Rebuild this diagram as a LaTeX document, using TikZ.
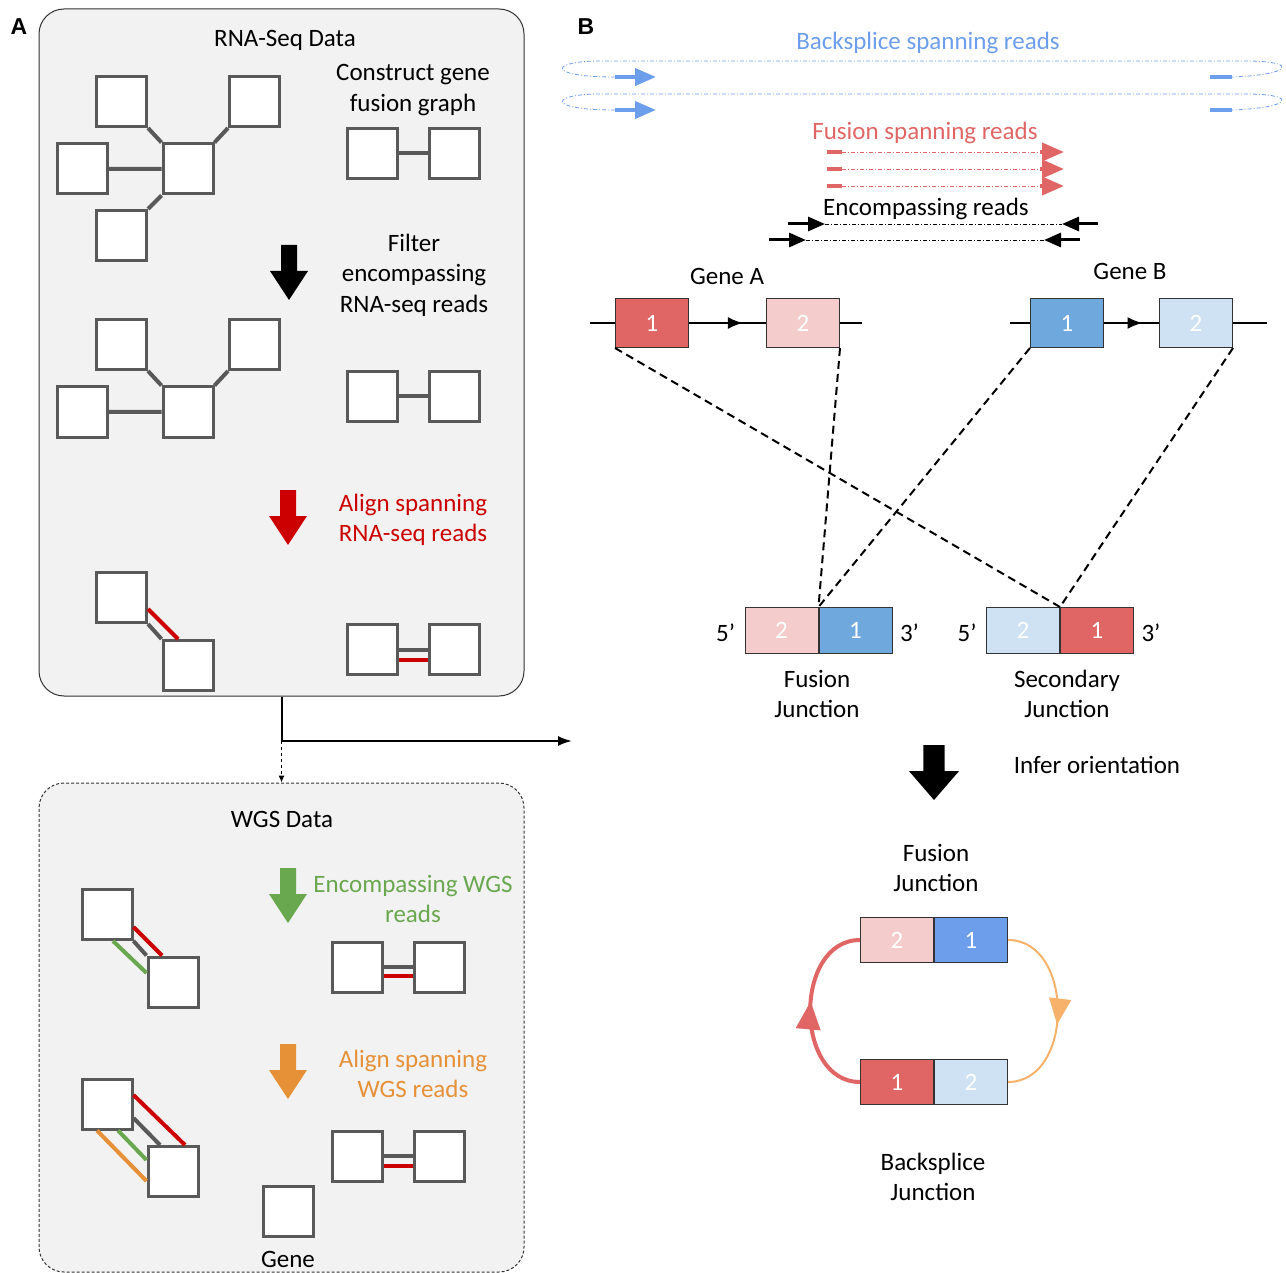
\documentclass[tikz,border=0pt]{standalone}
\usepackage{fontspec}
\setmainfont{Carlito}
\newfontfamily\panelfont{Liberation Sans}
\usetikzlibrary{positioning,arrows.meta,decorations.markings}

\definecolor{boxgray}{HTML}{F2F2F2}
\definecolor{edgegray}{HTML}{595959}
\definecolor{alignred}{HTML}{CC0000}
\definecolor{exonred}{HTML}{E06666}
\definecolor{exonpink}{HTML}{F4CCCC}
\definecolor{exonblue}{HTML}{6FA8DC}
\definecolor{exonsky}{HTML}{CFE2F3}
\definecolor{bsblue}{HTML}{6D9EEB}
\definecolor{wgsgreen}{HTML}{6AA84F}
\definecolor{wgsorange}{HTML}{E69138}
\definecolor{arcorange}{HTML}{F6B26B}

\newcommand\figfont{\fontsize{25}{30.5}\selectfont}

\tikzset{
every picture/.style={
line width=1pt
},
lbl/.style={font=\figfont, align=center, inner sep=0pt, yshift=-2pt},
panel/.style={draw=black!80, fill=boxgray, rounded corners=25pt, minimum width=485pt},
sq/.style={draw=edgegray, line width=3pt, fill=white, minimum size=50pt, inner sep=0pt},
link/.style={draw=edgegray, line width=4pt},
exon/.style={draw=black!80, minimum width=73pt, minimum height=49pt, inner sep=0pt, text=white, font=\figfont},
jbox/.style={exon, minimum height=46pt},
geneline/.style={line width=2pt},
midarrow/.style={postaction={decorate}, decoration={markings, mark=at position 0.7 with {\arrow{Latex[length=15pt,width=12pt]}}}},
dashline/.style={line width=2pt, dash pattern=on 8pt off 5pt},
dotread/.style={line width=0.8pt, dash pattern=on 4pt off 2pt on 1pt off 2pt},
readhead/.style={line width=4pt, -{Triangle[length=21pt,width=17pt]}},
encarrow/.style={line width=3pt, -{Triangle[length=17pt,width=14pt]}},
blockdown/.pic={
  \fill[#1] (-8,0) -- (8,0) -- (8,26) -- (19,26) -- (0,55) -- (-19,26) -- (-8,26) -- cycle;
}
}

\begin{document}
\begin{tikzpicture}[x=1pt, y=-1pt]
\useasboundingbox (0,0) rectangle (1286,1273);

% panel A
\node[font=\panelfont\bfseries\fontsize{23}{23}\selectfont] (labA) at (19,27) {A};
\node[panel, minimum height=687pt] (box1) at (281.5,352.5) {};
\node[panel, dash pattern=on 3pt off 2pt, minimum height=489pt] (box2) at (281.5,1027.5) {};

\node[lbl] (rnaT) at (285,38) {RNA-Seq Data};
\node[lbl] (cgT) at (413,88) {Construct gene\\fusion graph};

\node[sq] (r1tl) at (121.5,101.5) {};
\node[sq] (r1tr) at (254.5,101.5) {};
\node[sq] (r1l) at (82,169) {};
\node[sq] (r1c) at (188,169) {};
\node[sq] (r1b) at (121.5,235.5) {};
\draw[link] (r1tl.south east) -- (r1c.north west) (r1tr.south west) -- (r1c.north east)
  (r1l.east) -- (r1c.west) (r1b.north east) -- (r1c.south west);

\node[sq] (p1a) at (372.5,153.5) {};
\node[sq] (p1b) at (454.5,153.5) {};
\draw[link] (p1a.east) -- (p1b.west);

\pic at (289,245) {blockdown=black};
\node[lbl] (filT) at (414,273) {Filter\\encompassing\\RNA-seq reads};

\node[sq] (r2tl) at (121.5,344.5) {};
\node[sq] (r2tr) at (254.5,344.5) {};
\node[sq] (r2l) at (82,412) {};
\node[sq] (r2c) at (188,412) {};
\draw[link] (r2tl.south east) -- (r2c.north west) (r2tr.south west) -- (r2c.north east)
  (r2l.east) -- (r2c.west);

\node[sq] (p2a) at (372.5,396.5) {};
\node[sq] (p2b) at (454.5,396.5) {};
\draw[link] (p2a.east) -- (p2b.west);

\pic at (288,490) {blockdown=alignred};
\node[lbl, text=alignred] (alT) at (413,518) {Align spanning\\RNA-seq reads};

\node[sq] (r3a) at (121.5,597.5) {};
\node[sq] (r3b) at (188,665.5) {};
\draw[link] (r3a.south east) -- (r3b.north west);
\draw[link, alignred] ([yshift=-11.5pt]r3a.east) -- ([xshift=-10pt]r3b.north);

\node[sq] (p3a) at (372.5,649.5) {};
\node[sq] (p3b) at (454.5,649.5) {};
\draw[link] (p3a.east) -- (p3b.west);
\draw[link, alignred] ([yshift=-10pt]p3a.east) -- ([yshift=-10pt]p3b.west);

\coordinate (toB) at (572,741);
\coordinate (split) at (box1.south |- toB);
\draw[line width=2pt, -{Latex[length=14pt,width=10pt]}] (box1.south) -- (split) -- (toB);
\draw[dashed, -{Latex[length=7pt,width=6pt]}] (split) -- (box2.north);

\node[lbl] (wgsT) at (282,817) {WGS Data};

\node[sq] (w1a) at (107,914.5) {};
\node[sq] (w1b) at (173,982) {};
\draw[link] (w1a.south east) -- (w1b.north west);
\draw[link, alignred] ([yshift=-12.5pt]w1a.east) -- ([xshift=-11pt]w1b.north);
\draw[link, wgsgreen] ([xshift=6pt]w1a.south) -- ([yshift=9pt]w1b.west);

\pic at (288,868) {blockdown=wgsgreen};
\node[lbl, text=wgsgreen] (encT) at (413,897) {Encompassing WGS\\reads};

\node[sq] (q1a) at (357.5,967) {};
\node[sq] (q1b) at (439,967) {};
\draw[link] (q1a.east) -- (q1b.west);
\draw[link, alignred] ([yshift=-9pt]q1a.east) -- ([yshift=-9pt]q1b.west);

\pic at (288,1044) {blockdown=wgsorange};
\node[lbl, text=wgsorange] (awT) at (413,1072) {Align spanning\\WGS reads};

\node[sq] (w2a) at (107,1104) {};
\node[sq] (w2b) at (173,1171.5) {};
\draw[link] ([yshift=-14pt]w2a.east) -- ([xshift=-13pt]w2b.north);
\draw[link, alignred] ([yshift=9pt]w2a.east) -- ([xshift=12pt]w2b.north);
\draw[link, wgsgreen] ([xshift=11pt]w2a.south) -- ([yshift=11.5pt]w2b.west);
\draw[link, wgsorange] ([xshift=-10pt]w2a.south) -- ([yshift=-9.5pt]w2b.west);

\node[sq] (q2a) at (357.5,1156) {};
\node[sq] (q2b) at (439,1156) {};
\draw[link] (q2a.east) -- (q2b.west);
\draw[link, alignred] ([yshift=-10pt]q2a.east) -- ([yshift=-10pt]q2b.west);

\node[sq] (gsq) at (288,1211.5) {};
\node[lbl] (geneT) at (288,1257) {Gene};

% panel B
\node[font=\panelfont\bfseries\fontsize{23}{23}\selectfont] (labB) at (586,27) {B};

\node[lbl, text=bsblue] (bsT) at (928,41) {Backsplice spanning reads};
\foreach \y [count=\i] in {77,110}{
  \coordinate (bs\i a) at (615,\y);
  \coordinate (bs\i b) at (656,\y);
  \coordinate (bs\i c) at (1210,\y);
  \coordinate (bs\i d) at (1232,\y);
  \draw[readhead, bsblue] (bs\i a) -- (bs\i b);
  \draw[line width=4pt, bsblue] (bs\i c) -- (bs\i d);
  \draw[dotread, bsblue] (bs\i a) .. controls (545,\y) and (550,\y-16) .. (600,\y-16)
    -- (1250,\y-16) .. controls (1300,\y-15) and (1290,\y-2) .. (bs\i d);
}

\node[lbl, text=exonred] (fsT) at (925,131) {Fusion spanning reads};
\foreach \y [count=\i] in {152,169,186}{
  \coordinate (fs\i a) at (827,\y);
  \coordinate (fs\i b) at (842,\y);
  \coordinate (fs\i c) at (1040,\y);
  \coordinate (fs\i d) at (1064,\y);
  \draw[line width=4pt, exonred] (fs\i a) -- (fs\i b);
  \draw[dotread, exonred] (fs\i b) -- (fs\i c);
  \draw[line width=4pt, exonred, -{Triangle[length=22pt,width=18pt]}] (fs\i c) -- (fs\i d);
}

\node[lbl] (erT) at (926,207) {Encompassing reads};
\foreach \y/\l/\r [count=\i] in {224/788/1098,240/769/1080}{
  \coordinate (er\i a) at (\l,\y);
  \coordinate (er\i b) at (\l+37,\y);
  \coordinate (er\i c) at (\r-36,\y);
  \coordinate (er\i d) at (\r,\y);
  \draw[encarrow] (er\i a) -- (er\i b);
  \draw[dotread] (er\i b) -- (er\i c);
  \draw[encarrow] (er\i d) -- (er\i c);
}

\node[lbl] (gAT) at (727,274) {Gene A};
\node[lbl] (gBT) at (1130,269) {Gene B};

\node[exon, fill=exonred] (exA1) at (652,323) {1};
\node[exon, fill=exonpink] (exA2) at (803,323) {2};
\node[exon, fill=exonblue] (exB1) at (1067,323) {1};
\node[exon, fill=exonsky] (exB2) at (1196,323) {2};
\coordinate (gAl) at (590,323);
\coordinate (gAr) at (862,323);
\coordinate (gBl) at (1010,323);
\coordinate (gBr) at (1267,323);
\draw[geneline] (gAl) -- (exA1) (exA2) -- (gAr) (gBl) -- (exB1) (exB2) -- (gBr);
\draw[geneline, midarrow] (exA1) -- (exA2);
\draw[geneline, midarrow] (exB1) -- (exB2);

\node[jbox, fill=exonpink] (fj2) at (781.5,630.5) {2};
\node[jbox, fill=exonblue, right=0pt of fj2] (fj1) {1};
\node[jbox, fill=exonsky] (sj2) at (1023,630.5) {2};
\node[jbox, fill=exonred, right=0pt of sj2] (sj1) {1};
\node[lbl, left=9pt of fj2] (fj5) {5’};
\node[lbl, right=7pt of fj1] (fj3) {3’};
\node[lbl, left=9pt of sj2] (sj5) {5’};
\node[lbl, right=7pt of sj1] (sj3) {3’};

\draw[dashline] (exA1.south west) -- (sj2.north east);
\draw[dashline] (exA2.south east) -- (fj2.north east);
\draw[dashline] (exB1.south west) -- (fj2.north east);
\draw[dashline] (exB2.south east) -- (sj2.north east);

\node[lbl] (fjT) at (817,692) {Fusion\\Junction};
\node[lbl] (sjT) at (1067,692) {Secondary\\Junction};

\pic[xscale=1.32] at (934,745) {blockdown=black};
\node[lbl] (ioT) at (1097,763) {Infer orientation};

\node[lbl] (fj2T) at (936,866) {Fusion\\Junction};
\node[exon, minimum height=45pt, fill=exonpink] (bt2) at (897,940) {2};
\node[exon, minimum height=45pt, fill=bsblue, right=0pt of bt2] (bt1) {1};
\node[exon, minimum height=45pt, fill=exonred] (bb1) at (897,1082) {1};
\node[exon, minimum height=45pt, fill=exonsky, right=0pt of bb1] (bb2) {2};

\draw[line width=4pt, exonred, postaction={decorate},
  decoration={markings, mark=at position 0.55 with {\arrow{Triangle[length=28pt,width=24pt]}}}]
  (bb1.west) to[out=180, in=180, looseness=1.2] (bt2.west);
\draw[line width=2pt, arcorange, postaction={decorate},
  decoration={markings, mark=at position 0.57 with {\arrow{Triangle[length=26pt,width=22pt]}}}]
  (bt1.east) to[out=0, in=0, looseness=1.2] (bb2.east);

\node[lbl] (bjT) at (933,1175) {Backsplice\\Junction};
\end{tikzpicture}
\end{document}
